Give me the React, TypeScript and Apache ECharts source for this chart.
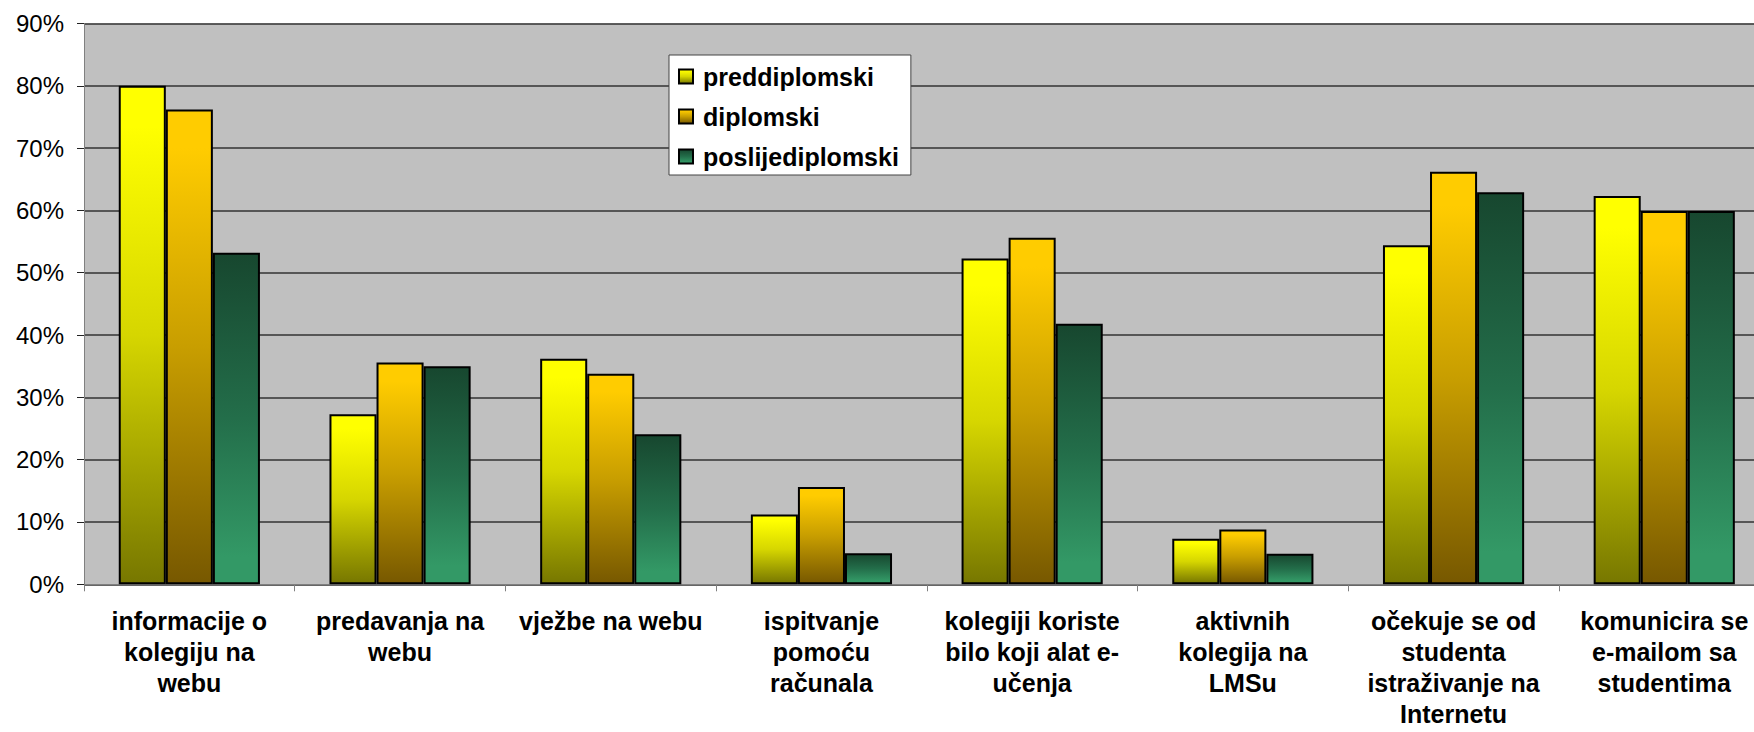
import React, { useEffect, useRef } from "react";
import * as echarts from "echarts";

const categories = [
  "informacije o\nkolegiju na\nwebu",
  "predavanja na\nwebu",
  "vježbe na webu",
  "ispitvanje\npomoću\nračunala",
  "kolegiji koriste\nbilo koji alat e-\nučenja",
  "aktivnih\nkolegija na\nLMSu",
  "očekuje se od\nstudenta\nistraživanje na\nInternetu",
  "komunicira se\ne-mailom sa\nstudentima",
];

const preddiplomski = [80.0, 27.3, 36.2, 11.2, 52.3, 7.3, 54.4, 62.3];
const diplomski = [76.2, 35.6, 33.8, 15.6, 55.6, 8.8, 66.2, 59.9];
const poslijediplomski = [53.2, 35.0, 24.1, 5.0, 41.8, 4.9, 62.9, 59.9];

const seriesNames = ["preddiplomski", "diplomski", "poslijediplomski"];

const FONT = "'Liberation Sans', Arial, sans-serif";

export default function App() {
  const ref = useRef<HTMLDivElement>(null);

  useEffect(() => {
    if (!ref.current) return;
    const chart = echarts.init(ref.current, undefined, { renderer: "svg" });

    const grad = (stops: [number, string][]) =>
      new echarts.graphic.LinearGradient(
        0,
        0,
        0,
        1,
        stops.map(([offset, color]) => ({ offset, color }))
      );

    const fills = [
      grad([
        [0, "#FFFF00"],
        [0.08, "#FFFF00"],
        [0.5, "#D6D600"],
        [1, "#777700"],
      ]),
      grad([
        [0, "#FFCC00"],
        [0.08, "#FFCC00"],
        [0.5, "#C89E00"],
        [1, "#775800"],
      ]),
      grad([
        [0, "#17472F"],
        [0.5, "#236E4A"],
        [0.92, "#339966"],
        [1, "#339966"],
      ]),
    ];

    const data = [preddiplomski, diplomski, poslijediplomski];

    chart.setOption({
      animation: false,
      textStyle: { fontFamily: FONT },
      grid: {
        left: 84,
        top: 23.5,
        right: -15.6,
        bottom: 147.7,
        containLabel: false,
        outerBoundsMode: "none",
        show: true,
        backgroundColor: "#C0C0C0",
        borderWidth: 0,
      },
      legend: {
        orient: "vertical",
        left: 669,
        top: 55,
        data: seriesNames,
        backgroundColor: "#FFFFFF",
        borderColor: "#444444",
        borderWidth: 1,
        padding: [9, 12, 6, 9],
        itemGap: 15,
        itemWidth: 14,
        itemHeight: 14,
        icon: "rect",
        textStyle: {
          fontFamily: FONT,
          fontSize: 25,
          fontWeight: "bold",
          color: "#000",
          padding: [0, 0, 0, 5],
        },
      },
      xAxis: {
        type: "category",
        data: categories,
        boundaryGap: true,
        axisLine: { show: true, lineStyle: { color: "#808080", width: 1 } },
        axisTick: {
          show: true,
          length: 7,
          lineStyle: { color: "#808080", width: 1 },
        },
        axisLabel: {
          interval: 0,
          margin: 21,
          fontFamily: FONT,
          fontSize: 25,
          fontWeight: "bold",
          lineHeight: 31,
          color: "#000",
          align: "center",
          hideOverlap: false,
        },
        splitLine: { show: false },
      },
      yAxis: {
        type: "value",
        min: 0,
        max: 90,
        interval: 10,
        axisLine: { show: true, lineStyle: { color: "#808080", width: 1 } },
        axisTick: {
          show: true,
          length: 7,
          lineStyle: { color: "#222222", width: 1 },
        },
        axisLabel: {
          formatter: "{value}%",
          fontFamily: FONT,
          fontSize: 24,
          color: "#000",
          margin: 20,
        },
        splitLine: { show: true, lineStyle: { color: "#333333", width: 1.5 } },
      },
      series: seriesNames.map((name, i) => ({
        name,
        type: "bar",
        data: data[i],
        barGap: "0%",
        barCategoryGap: "33%",
        itemStyle: {
          color: fills[i],
          borderColor: "#000000",
          borderWidth: 2,
        },
        emphasis: { disabled: true },
      })),
    });

    return () => {
      chart.dispose();
    };
  }, []);

  return (
    <div
      ref={ref}
      style={{
        position: "absolute",
        left: 0,
        top: 0,
        width: 1754,
        height: 732,
        background: "#FFFFFF",
      }}
    />
  );
}
